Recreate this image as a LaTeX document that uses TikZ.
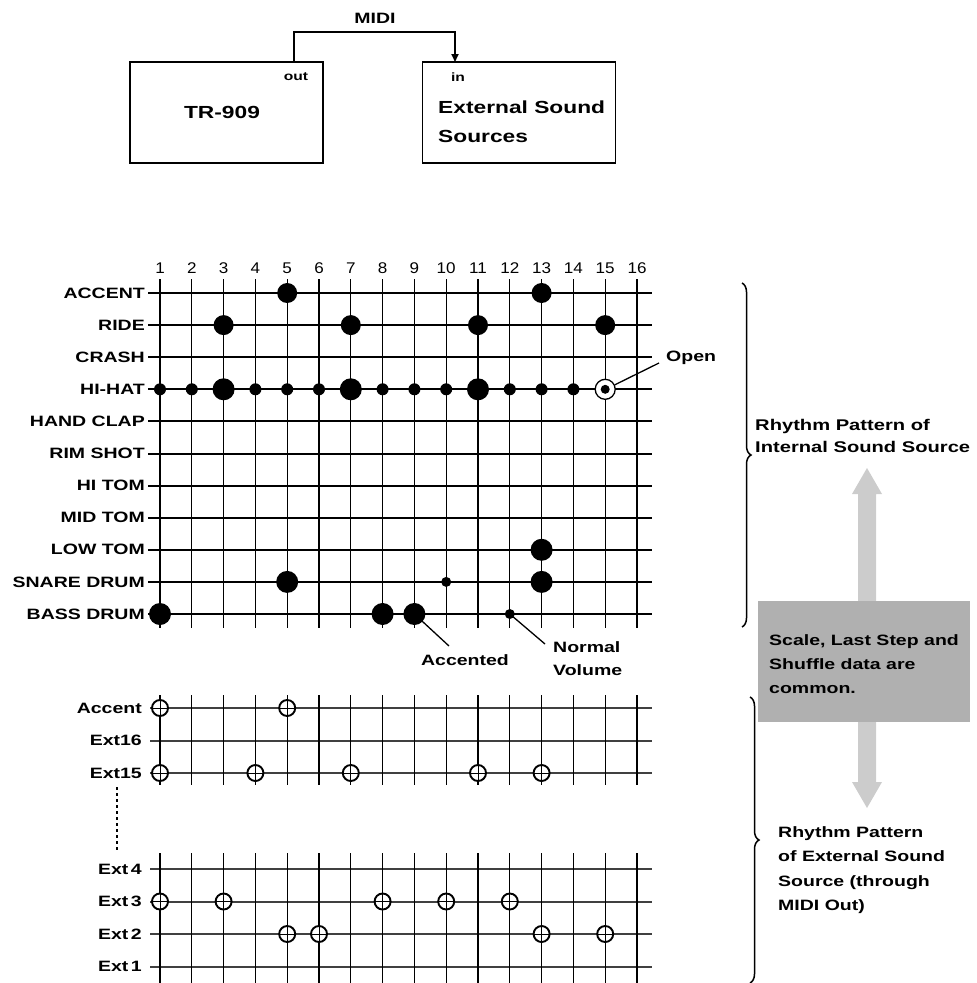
\documentclass[tikz,border=0pt]{standalone}
\usepackage{fontspec}
\newfontfamily\lab[FakeStretch=1.3]{Liberation Sans}
\newfontfamily\numf[FakeStretch=1.1]{Liberation Sans}
\usetikzlibrary{decorations.pathreplacing,arrows.meta,calc}
\begin{document}
\begin{tikzpicture}[x=1pt,y=-1pt,
  rowlab/.style={anchor=east,inner sep=0pt,font=\lab\bfseries\fontsize{15}{17}\selectfont},
  extlab/.style={anchor=east,inner sep=0pt,font=\lab\bfseries\fontsize{15}{17}\selectfont},
  numlab/.style={inner sep=0pt,font=\numf\fontsize{15.5}{17}\selectfont},
  txt/.style={inner sep=0pt,font=\lab\bfseries\fontsize{15}{17}\selectfont},
  boxtxt/.style={inner sep=0pt,font=\lab\bfseries\fontsize{17.5}{29}\selectfont},
  hline/.style={line width=2pt},
  hlineb/.style={line width=2pt,black!75},
  vline/.style={line width=1.3pt},
  bigdot/.style={circle,fill=black,minimum size=22pt,inner sep=0pt},
  meddot/.style={circle,fill=black,minimum size=20pt,inner sep=0pt},
  smalldot/.style={circle,fill=black,minimum size=12pt,inner sep=0pt},
  ring/.style={circle,draw=black,line width=1.3pt,fill=white,minimum size=20pt,inner sep=0pt},
  extmark/.style={circle,draw=black,line width=1.9pt,fill=white,minimum size=16pt,inner sep=0pt,
    path picture={\draw[line width=0.8pt]
      (path picture bounding box.north) -- (path picture bounding box.south)
      (path picture bounding box.west) -- (path picture bounding box.east);}},
  devbox/.style={draw=black,line width=1.7pt,minimum width=193pt,minimum height=101pt,inner sep=0pt},
  note/.style={line width=1.3pt},
  bracestyle/.style={decorate,decoration={brace,amplitude=9pt},line width=1.5pt}
]
\useasboundingbox (0,0) rectangle (977,983);

% ---------- top block diagram ----------
\node[devbox] (tr) at (226.5,112.5) {};
\node[devbox] (ext) at (519,112.5) {};
\node[boxtxt] (trlbl) at (222,112) {TR-909};
\node[boxtxt,anchor=west,align=left] (extlbl) at (438,122) {External Sound\\Sources};
\node[inner sep=0pt,font=\lab\bfseries\fontsize{12}{14}\selectfont] (outlbl) at (296,77) {out};
\node[inner sep=0pt,font=\lab\bfseries\fontsize{12}{14}\selectfont] (inlbl) at (458,77) {in};
\coordinate (outp) at (294,62);
\coordinate (inp) at (455,62);
\coordinate (midiY) at (375,32);
\draw[line width=1.7pt,-{Triangle[length=8pt,width=7pt]}] (outp) |- (midiY) -| (inp);
\node[txt] (midi) at (375,18) {MIDI};

% ---------- internal grid ----------
\foreach \c in {1,...,16} {
  \foreach \r in {0,...,10} {
    \coordinate (g\c-\r) at ({160+31.8*(\c-1)},{293+32.1*\r});
  }
}
\foreach \r in {0,...,10} \draw[hline] (148,{293+32.1*\r}) -- (652,{293+32.1*\r});
\foreach \c in {1,...,16} \draw[vline] ({160+31.8*(\c-1)},279) -- ({160+31.8*(\c-1)},628);
\foreach \c in {1,...,16} \node[numlab] (n\c) at ({160+31.8*(\c-1)},268) {\c};
\foreach \t [count=\i from 0] in {ACCENT,RIDE,CRASH,HI-HAT,HAND CLAP,RIM SHOT,HI TOM,MID TOM,LOW TOM,SNARE DRUM,BASS DRUM}
  \node[rowlab] (r\i) at (145,{293+32.1*\i}) {\t};

% accent
\node[meddot] (ac5) at (g5-0) {};
\node[meddot] (ac13) at (g13-0) {};
% ride
\foreach \c in {3,7,11,15} \node[meddot] (ri\c) at (g\c-1) {};
% hi-hat
\foreach \c in {1,2,4,5,6,8,9,10,12,13,14} \node[smalldot] (hh\c) at (g\c-3) {};
\foreach \c in {3,7,11} \node[bigdot] (hh\c) at (g\c-3) {};
\node[ring] (hhopen) at (g15-3) {};
\node[smalldot,minimum size=9pt] (hhopenc) at (g15-3) {};
% low tom
\node[bigdot] (lt13) at (g13-8) {};
% snare
\node[bigdot] (sd5) at (g5-9) {};
\node[bigdot] (sd13) at (g13-9) {};
\node[smalldot,minimum size=10pt] (sd10) at (g10-9) {};
% bass
\foreach \c in {1,8,9} \node[bigdot] (bd\c) at (g\c-10) {};
\node[smalldot,minimum size=10pt] (bd12) at (g12-10) {};

% annotations
\node[txt,anchor=west] (openlbl) at (666,358) {Open};
\coordinate (openEnd) at (659,363);
\draw[note] (hhopen.25) -- (openEnd);
\node[txt] (acclbl) at (465,660) {Accented};
\coordinate (accEnd) at (449,646);
\draw[note] (bd9.center) -- (accEnd);
\node[txt,anchor=west,align=left,font=\lab\bfseries\fontsize{15}{23}\selectfont] (normlbl) at (553,659) {Normal\\Volume};
\coordinate (normEnd) at (545,644);
\draw[note] (bd12.center) -- (normEnd);

% ---------- external grid ----------
\foreach \r/\y in {A/708,16/740.5,15/773,4/869,3/901.5,2/934,1/966.5} {
  \foreach \c in {1,...,16} {
    \coordinate (e\c-\r) at ({160+31.8*(\c-1)},\y);
  }
  \draw[hlineb] (150,\y) -- (652,\y);
}
\foreach \c in {1,...,16} {
  \draw[vline] ({160+31.8*(\c-1)},695) -- ({160+31.8*(\c-1)},785);
  \draw[vline] ({160+31.8*(\c-1)},853) -- ({160+31.8*(\c-1)},983);
}
\node[extlab] (xA) at (142,708) {Accent};
\node[extlab] (x16) at (142,740.5) {Ext16};
\node[extlab] (x15) at (142,773) {Ext15};
\node[extlab] (x4) at (142,869) {Ext\,4};
\node[extlab] (x3) at (142,901.5) {Ext\,3};
\node[extlab] (x2) at (142,934) {Ext\,2};
\node[extlab] (x1) at (142,966.5) {Ext\,1};
\coordinate (dotTop) at (117,787);
\coordinate (dotBot) at (117,851);
\draw[line width=1.5pt,dash pattern=on 3pt off 3pt] (dotTop) -- (dotBot);

\foreach \c in {1,5} \node[extmark] (mA\c) at (e\c-A) {};
\foreach \c in {1,4,7,11,13} \node[extmark] (m15-\c) at (e\c-15) {};
\foreach \c in {1,3,8,10,12} \node[extmark] (m3-\c) at (e\c-3) {};
\foreach \c in {5,6,13,15} \node[extmark] (m2-\c) at (e\c-2) {};

% ---------- right side ----------
\coordinate (b1top) at (742,283);
\coordinate (b1bot) at (742,627);
\draw[bracestyle] (b1top) -- (b1bot);
\coordinate (b2top) at (750,697);
\coordinate (b2bot) at (750,983);
\draw[bracestyle] (b2top) -- (b2bot);

\node[txt,anchor=west,align=left,font=\lab\bfseries\fontsize{15.5}{22}\selectfont] (intlbl) at (755,436) {Rhythm Pattern of\\Internal Sound Source};
\node[txt,anchor=west,align=left,font=\lab\bfseries\fontsize{15}{24.5}\selectfont] (extplbl) at (778,870) {Rhythm Pattern\\of External Sound\\Source (through\\MIDI Out)};

% double arrow
\fill[gray!40] (867,468) -- (882,494) -- (876,494) -- (876,782) -- (882,782) -- (867,808)
  -- (852,782) -- (858,782) -- (858,494) -- (852,494) -- cycle;
\node[fill=gray!62,minimum width=212pt,minimum height=121pt,inner sep=0pt,anchor=north west] (common) at (758,601) {};
\node[txt,anchor=west,align=left,font=\lab\bfseries\fontsize{15}{24}\selectfont] (commonlbl) at (769,664) {Scale, Last Step and\\Shuffle data are\\common.};
\end{tikzpicture}
\end{document}
